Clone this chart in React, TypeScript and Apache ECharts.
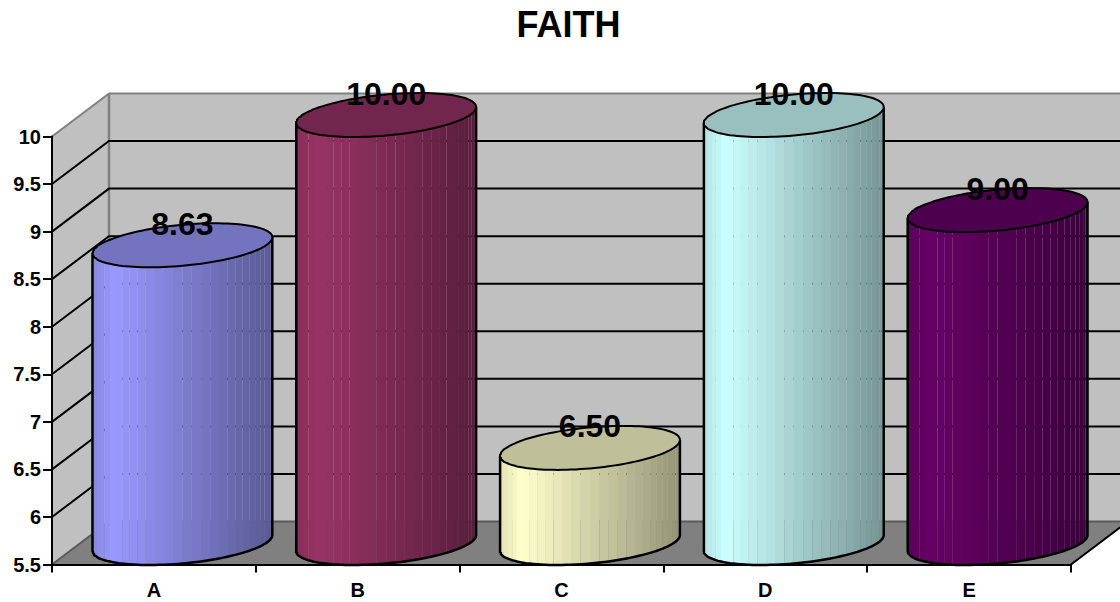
import React, { useEffect, useRef } from "react";
import * as echarts from "echarts";

const chartTitle = "FAITH";
const categories = ["A", "B", "C", "D", "E"];
const scores = [8.63, 10.0, 6.5, 10.0, 9.0];
const barColors = ["#9999ff", "#993366", "#ffffcc", "#ccffff", "#660066"];
const gridValues = [6, 6.5, 7, 7.5, 8, 8.5, 9, 9.5];
const axisMin = 5.5;
const axisMax = 10;
const axisStep = 0.5;

const FONT = '"Liberation Sans", Arial, sans-serif';
// Oblique offset between the front plane and the back wall.
const DEPTH_X = 57;
const DEPTH_Y = 43;
const FACETS = 30;

const wallFill = "#c0c0c0";
const floorFill = "#808080";
const edgeGray = "#808080";

function shade(hex: string, k: number) {
  const n = parseInt(hex.slice(1), 16);
  const ch = (s: number) => Math.round(((n >> s) & 255) * k);
  return `rgb(${ch(16)},${ch(8)},${ch(0)})`;
}

// Brightness across the cylinder body, left to right.
function bodyFactor(f: number) {
  if (f < 0.12) return 0.88 + (f / 0.12) * 0.12;
  return 1 - ((f - 0.12) / 0.88) * 0.42;
}

// Facet joins on whole pixels leave no anti-aliased hairline between facets.
function seamX(x: number, left: number, width: number) {
  const f = (x - left) / width;
  const snapped = (f > 0 && f < 0.06) || (f > 0.08 && f < 0.16) || (f > 0.3 && f < 0.42);
  return snapped ? Math.round(x) : x;
}

const renderWalls = (params: any) => {
  const { x, y, width, height } = params.coordSys;
  const b = y + height;
  const r = x + width;
  const line = (x1: number, y1: number, x2: number, y2: number, stroke: string, w = 2) => ({
    type: "line",
    shape: { x1, y1, x2, y2 },
    style: { stroke, lineWidth: w },
  });
  const poly = (points: number[][], fill: string) => ({ type: "polygon", shape: { points }, style: { fill } });
  return {
    type: "group",
    children: [
      poly([[x, y], [x + DEPTH_X, y - DEPTH_Y], [x + DEPTH_X, b - DEPTH_Y], [x, b]], wallFill),
      poly([[x + DEPTH_X, y - DEPTH_Y], [r + DEPTH_X, y - DEPTH_Y], [r + DEPTH_X, b - DEPTH_Y], [x + DEPTH_X, b - DEPTH_Y]], wallFill),
      poly([[x, b], [r, b], [r + DEPTH_X, b - DEPTH_Y], [x + DEPTH_X, b - DEPTH_Y]], floorFill),
      line(x, y, x + DEPTH_X, y - DEPTH_Y, edgeGray),
      line(x + DEPTH_X, y - DEPTH_Y, r + DEPTH_X, y - DEPTH_Y, edgeGray),
      line(x + DEPTH_X, y - DEPTH_Y, x + DEPTH_X, b - DEPTH_Y, edgeGray, 2.5),
      line(x, b, x + DEPTH_X, b - DEPTH_Y, "#5a5a5a"),
      line(x + DEPTH_X, b - DEPTH_Y, r + DEPTH_X, b - DEPTH_Y, "#5a5a5a"),
      line(r, b, r + DEPTH_X, b - DEPTH_Y, "#000"),
    ],
  };
};

const renderGridLine = (params: any, api: any) => {
  const { x, width } = params.coordSys;
  const yy = api.coord([0, api.value(1)])[1];
  return {
    type: "polyline",
    shape: { points: [[x, yy], [x + DEPTH_X, yy - DEPTH_Y], [x + width + DEPTH_X, yy - DEPTH_Y]] },
    style: { stroke: "#000", lineWidth: 2, fill: "none" },
  };
};

const renderCylinder = (params: any, api: any) => {
  const i = api.value(0);
  const v = api.value(1);
  const base = barColors[i];
  const band = api.size([1, 0])[0];
  const a = band * 0.4412;
  const top = api.coord([i, v]);
  const bottom = api.coord([i, axisMin]);
  const cx = top[0] + DEPTH_X / 2;
  const left = cx - a;
  const point = (yFront: number, t: number) => {
    const raw = cx + a * Math.cos(t);
    return [
      seamX(raw, left, 2 * a),
      yFront - DEPTH_Y / 2 - 8 * Math.cos(t) - 20.5 * Math.sin(t),
    ];
  };

  const children: any[] = [];
  const frontArc: number[][] = [];
  for (let k = 0; k < FACETS; k++) {
    const t0 = -Math.PI + (k / FACETS) * Math.PI;
    const t1 = -Math.PI + ((k + 1) / FACETS) * Math.PI;
    const p0 = point(top[1], t0);
    const p1 = point(top[1], t1);
    const q1 = point(bottom[1], t1);
    const q0 = point(bottom[1], t0);
    const f = ((p0[0] + p1[0]) / 2 - left) / (2 * a);
    children.push({
      type: "polygon",
      shape: { points: [p0, p1, q1, q0] },
      style: { fill: shade(base, bodyFactor(f)) },
    });
  }
  for (let k = 0; k <= 60; k++) frontArc.push(point(bottom[1], -Math.PI + (k / 60) * Math.PI));
  children.push({
    type: "polyline",
    shape: { points: [point(top[1], -Math.PI), ...frontArc, point(top[1], 0)] },
    style: { stroke: "#000", lineWidth: 2.5, fill: "none" },
  });

  const rim: number[][] = [];
  for (let k = 0; k < 120; k++) rim.push(point(top[1], (k / 120) * 2 * Math.PI));
  children.push({
    type: "polygon",
    shape: { points: rim },
    style: { fill: shade(base, 0.75), stroke: "#000", lineWidth: 2 },
  });
  children.push({
    type: "text",
    style: {
      text: v.toFixed(2),
      x: cx,
      y: top[1] - DEPTH_Y,
      align: "center",
      verticalAlign: "middle",
      fontFamily: FONT,
      fontWeight: "bold",
      fontSize: 32,
      fill: "#000",
    },
  });
  return { type: "group", children };
};

export default function App() {
  const ref = useRef<HTMLDivElement>(null);
  useEffect(() => {
    document.body.style.margin = "0";
    const chart = echarts.init(ref.current!, null, { renderer: "svg" });
    chart.setOption({
      animation: false,
      backgroundColor: "#fff",
      title: {
        text: chartTitle,
        left: 563.5,
        top: 1,
        textAlign: "center",
        textStyle: { fontFamily: FONT, fontWeight: "bold", fontSize: 36, color: "#000" },
      },
      grid: { left: 52, right: 49, top: 136.5, bottom: 37.5 },
      xAxis: {
        type: "category",
        data: categories,
        z: 2,
        axisLine: { lineStyle: { color: "#000", width: 2 } },
        axisTick: { show: true, length: 8, lineStyle: { color: "#000", width: 2 } },
        axisLabel: { fontFamily: FONT, fontWeight: "bold", fontSize: 20, color: "#000", margin: 15 },
      },
      yAxis: {
        type: "value",
        min: axisMin,
        max: axisMax,
        interval: axisStep,
        z: 2,
        splitLine: { show: false },
        axisLine: { show: true, lineStyle: { color: "#000", width: 2 } },
        axisTick: { show: true, length: 9, lineStyle: { color: "#000", width: 2 } },
        axisLabel: { fontFamily: FONT, fontWeight: "bold", fontSize: 20, color: "#000", margin: 11 },
      },
      series: [
        { type: "custom", z: 1, silent: true, renderItem: renderWalls, data: [[0, axisMin]], encode: { x: 0, y: 1 } },
        {
          type: "custom",
          z: 1,
          silent: true,
          renderItem: renderGridLine,
          data: gridValues.map((v) => [0, v]),
          encode: { x: 0, y: 1 },
        },
        {
          type: "custom",
          z: 3,
          silent: true,
          renderItem: renderCylinder,
          data: scores.map((v, i) => [i, v]),
          encode: { x: 0, y: 1 },
        },
      ],
    });
    return () => chart.dispose();
  }, []);
  return <div ref={ref} style={{ position: "absolute", left: 0, top: 0, width: 1120, height: 602 }} />;
}
